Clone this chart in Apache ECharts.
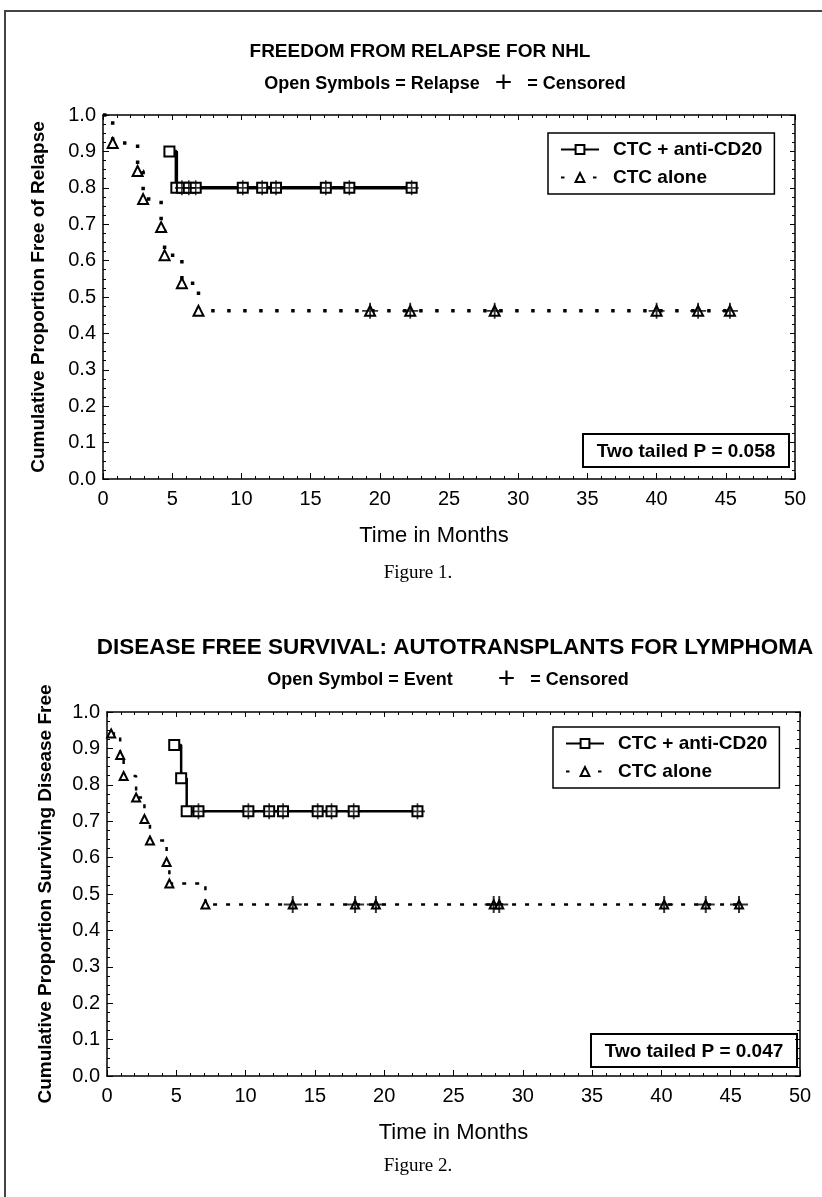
<!DOCTYPE html>
<html>
<head>
<meta charset="utf-8">
<script src="https://cdn.jsdelivr.net/npm/echarts@6/dist/echarts.min.js"></script>
<style>
  html, body { margin: 0; background: #fff; }
  #chart { width: 822px; height: 1197px; }
</style>
</head>
<body>
<div id="chart"></div>
<script>
// Figure 1: freedom from relapse (time in months, proportion)
const fig1ComboEvents = [[4.8, 0.9], [5.3, 0.8]];
const fig1ComboCensored = [5.7, 6.2, 6.7, 10.1, 11.5, 12.5, 16.1, 17.8, 22.3];
const fig1AloneEvents = [[0.7, 0.923], [2.5, 0.846], [2.9, 0.769], [4.2, 0.692], [4.45, 0.615], [5.7, 0.538], [6.9, 0.462]];
const fig1AloneCensored = [19.3, 22.2, 28.3, 40.0, 43.0, 45.3];

// Figure 2: disease free survival
const fig2ComboEvents = [[4.85, 0.909], [5.35, 0.818], [5.75, 0.727]];
const fig2ComboCensored = [6.6, 10.2, 11.7, 12.7, 15.2, 16.2, 17.8, 22.4];
const fig2AloneEvents = [[0.3, 0.941], [0.95, 0.882], [1.2, 0.824], [2.1, 0.765], [2.7, 0.706], [3.1, 0.647], [4.3, 0.588], [4.5, 0.529], [7.1, 0.471]];
const fig2AloneCensored = [13.4, 17.9, 19.4, 27.9, 28.3, 40.2, 43.2, 45.6];

const seriesNames = ['CTC + anti-CD20', 'CTC alone'];

const sans = '"Liberation Sans", Arial, sans-serif';
const serif = '"Liberation Serif", "Times New Roman", serif';
const crossPath = 'path://M-1,-9L1,-9L1,-1L9,-1L9,1L1,1L1,9L-1,9L-1,1L-9,1L-9,-1L-1,-1Z';

const myChart = echarts.init(document.getElementById('chart'));

// survival level of a KM curve at time t
const levelAt = (events, t) => {
  let s = 1;
  events.forEach(e => { if (e[0] <= t) s = e[1]; });
  return s;
};

const curveData = (events, censored, startAtOne) => {
  const pts = events.map(e => ({value: [e[0], e[1]]}))
    .concat(censored.map(t => ({value: [t, levelAt(events, t)]})));
  pts.sort((a, b) => a.value[0] - b.value[0]);
  if (startAtOne) pts.unshift({value: [0, 1], symbol: 'none'});
  return pts;
};

const kmSeries = (name, gi, data, symbol, symbolSize, lineStyle) => ({
  name: name,
  type: 'line',
  xAxisIndex: gi * 2,
  yAxisIndex: gi * 2,
  data: data,
  step: 'end',
  symbol: symbol,
  symbolSize: symbolSize,
  showSymbol: true,
  clip: false,
  lineStyle: lineStyle,
  itemStyle: {color: '#000', borderWidth: 1.5},
  emphasis: {disabled: true},
  z: 3
});

const censorSeries = (gi, events, censored, size) => ({
  type: 'scatter',
  xAxisIndex: gi * 2,
  yAxisIndex: gi * 2,
  data: censored.map(t => [t, levelAt(events, t)]),
  symbol: crossPath,
  symbolSize: size,
  itemStyle: {color: '#000'},
  silent: true,
  z: 4
});

const xAxes = (gi, name, namePad) => [
  {
    gridIndex: gi, type: 'value', min: 0, max: 50, interval: 5, position: 'bottom',
    axisLine: {onZero: false, lineStyle: {color: '#000', width: 1.5}},
    axisTick: {inside: true, length: 6, lineStyle: {color: '#000'}},
    minorTick: {show: true, splitNumber: 5, length: 3, lineStyle: {color: '#000'}},
    splitLine: {show: false},
    axisLabel: {color: '#000', fontSize: 20, fontFamily: sans, margin: 10},
    name: name, nameLocation: 'middle', nameGap: 46,
    nameTextStyle: {color: '#000', fontSize: 22, fontFamily: sans, padding: namePad}
  },
  {
    gridIndex: gi, type: 'value', min: 0, max: 50, interval: 5, position: 'top',
    axisLine: {onZero: false, lineStyle: {color: '#000', width: 1.5}},
    axisTick: {inside: true, length: 5, lineStyle: {color: '#000'}},
    minorTick: {show: true, splitNumber: 5, length: 3, lineStyle: {color: '#000'}},
    splitLine: {show: false},
    axisLabel: {show: false}
  }
];

const yAxes = (gi, name, gap) => [
  {
    gridIndex: gi, type: 'value', min: 0, max: 1, interval: 0.1, position: 'left',
    axisLine: {onZero: false, lineStyle: {color: '#000', width: 1.5}},
    axisTick: {inside: true, length: 6, lineStyle: {color: '#000'}},
    minorTick: {show: true, splitNumber: 4, length: 3, lineStyle: {color: '#000'}},
    splitLine: {show: false},
    axisLabel: {color: '#000', fontSize: 20, fontFamily: sans, margin: 7, formatter: v => v.toFixed(1)},
    name: name, nameLocation: 'middle', nameGap: gap,
    nameTextStyle: {color: '#000', fontSize: 19, fontWeight: 'bold', fontFamily: sans}
  },
  {
    gridIndex: gi, type: 'value', min: 0, max: 1, interval: 0.1, position: 'right',
    axisLine: {onZero: false, lineStyle: {color: '#000', width: 1.5}},
    axisTick: {inside: true, length: 5, lineStyle: {color: '#000'}},
    minorTick: {show: true, splitNumber: 4, length: 3, lineStyle: {color: '#000'}},
    splitLine: {show: false},
    axisLabel: {show: false}
  }
];

const legendBox = (left, top) => ({
  data: seriesNames,
  orient: 'vertical',
  left: left, top: top,
  padding: [7, 12, 7, 12],
  itemWidth: 38, itemHeight: 11, itemGap: 9,
  borderColor: '#000', borderWidth: 1.5,
  selectedMode: false,
  textStyle: {color: '#000', fontSize: 19, fontWeight: 'bold', fontFamily: sans, padding: [0, 0, 0, 9]}
});

const txt = (x, y, text, size, weight, family) => ({
  type: 'text', x: x, y: y,
  style: {
    text: text, fill: '#000', fontSize: size, fontWeight: weight, fontFamily: family,
    align: 'center', verticalAlign: 'middle', textAlign: 'center', textVerticalAlign: 'middle'
  }
});

const subTitle = (x, y, left, gapL, gapR) => ({
  type: 'text', x: x, y: y,
  style: {
    text: '{b|' + left + '}' + gapL + '{p|+}' + gapR + '{b|= Censored}',
    align: 'center', verticalAlign: 'middle', textAlign: 'center', textVerticalAlign: 'middle',
    fill: '#000', fontSize: 18, fontWeight: 'bold', fontFamily: sans,
    rich: {
      b: {fontSize: 18, fontWeight: 'bold', fontFamily: sans, fill: '#000'},
      p: {fontSize: 30, fontWeight: 'normal', fontFamily: sans, fill: '#000'}
    }
  }
});

const pBox = (x, y, w, h, text) => ({
  type: 'group', left: x, top: y,
  children: [
    {type: 'rect', shape: {x: 0, y: 0, width: w, height: h}, style: {fill: '#fff', stroke: '#000', lineWidth: 2}},
    {type: 'text', x: w / 2, y: h / 2 + 1, style: {
      text: text, fill: '#000', fontSize: 19, fontWeight: 'bold', fontFamily: sans,
      align: 'center', verticalAlign: 'middle', textAlign: 'center', textVerticalAlign: 'middle'}}
  ]
});

const option = {
  backgroundColor: '#fff',
  animation: false,
  grid: [
    {left: 103, top: 115, width: 692, height: 364},
    {left: 107, top: 712, width: 693, height: 364}
  ],
  xAxis: [].concat(xAxes(0, 'Time in Months', [0, 30, 0, 0]), xAxes(1, 'Time in Months', 0)),
  yAxis: [].concat(yAxes(0, 'Cumulative Proportion Free of Relapse', 55), yAxes(1, 'Cumulative Proportion Surviving Disease Free', 52)),
  legend: [legendBox(548, 133), legendBox(553, 727)],
  graphic: [
    {type: 'polyline', shape: {points: [[5, 1197], [5, 11], [822, 11]]}, style: {stroke: '#444', lineWidth: 2, fill: null}},
    txt(420, 52, 'FREEDOM FROM RELAPSE FOR NHL', 19, 'bold', sans),
    subTitle(445, 84, 'Open Symbols = Relapse', '   ', '   '),
    txt(418, 573, 'Figure 1.', 19, 'normal', serif),
    txt(455, 648, 'DISEASE FREE SURVIVAL: AUTOTRANSPLANTS FOR LYMPHOMA', 22.5, 'bold', sans),
    subTitle(448, 680, 'Open Symbol = Event', '         ', '   '),
    txt(418, 1166, 'Figure 2.', 19, 'normal', serif),
    pBox(582, 433, 206, 33, 'Two tailed P = 0.058'),
    pBox(590, 1033, 206, 33, 'Two tailed P = 0.047')
  ],
  series: [
    kmSeries(seriesNames[0], 0, curveData(fig1ComboEvents, fig1ComboCensored, false), 'emptyRect', 10,
      {color: '#000', width: 3.5}),
    kmSeries(seriesNames[1], 0, curveData(fig1AloneEvents, fig1AloneCensored, true), 'emptyTriangle', 10,
      {color: '#000', width: 3.5, type: [3.5, 12.5]}),
    censorSeries(0, fig1ComboEvents, fig1ComboCensored, [14, 15]),
    censorSeries(0, fig1AloneEvents, fig1AloneCensored, [16, 16]),
    kmSeries(seriesNames[0], 1, curveData(fig2ComboEvents, fig2ComboCensored, false), 'emptyRect', 10,
      {color: '#000', width: 2.5}),
    kmSeries(seriesNames[1], 1, curveData(fig2AloneEvents, fig2AloneCensored, false), 'emptyTriangle', 8,
      {color: '#000', width: 2.5, type: [4, 9]}),
    censorSeries(1, fig2ComboEvents, fig2ComboCensored, [15, 16]),
    censorSeries(1, fig2AloneEvents, fig2AloneCensored, [18, 17])
  ]
};

myChart.setOption(option);
</script>
</body>
</html>
